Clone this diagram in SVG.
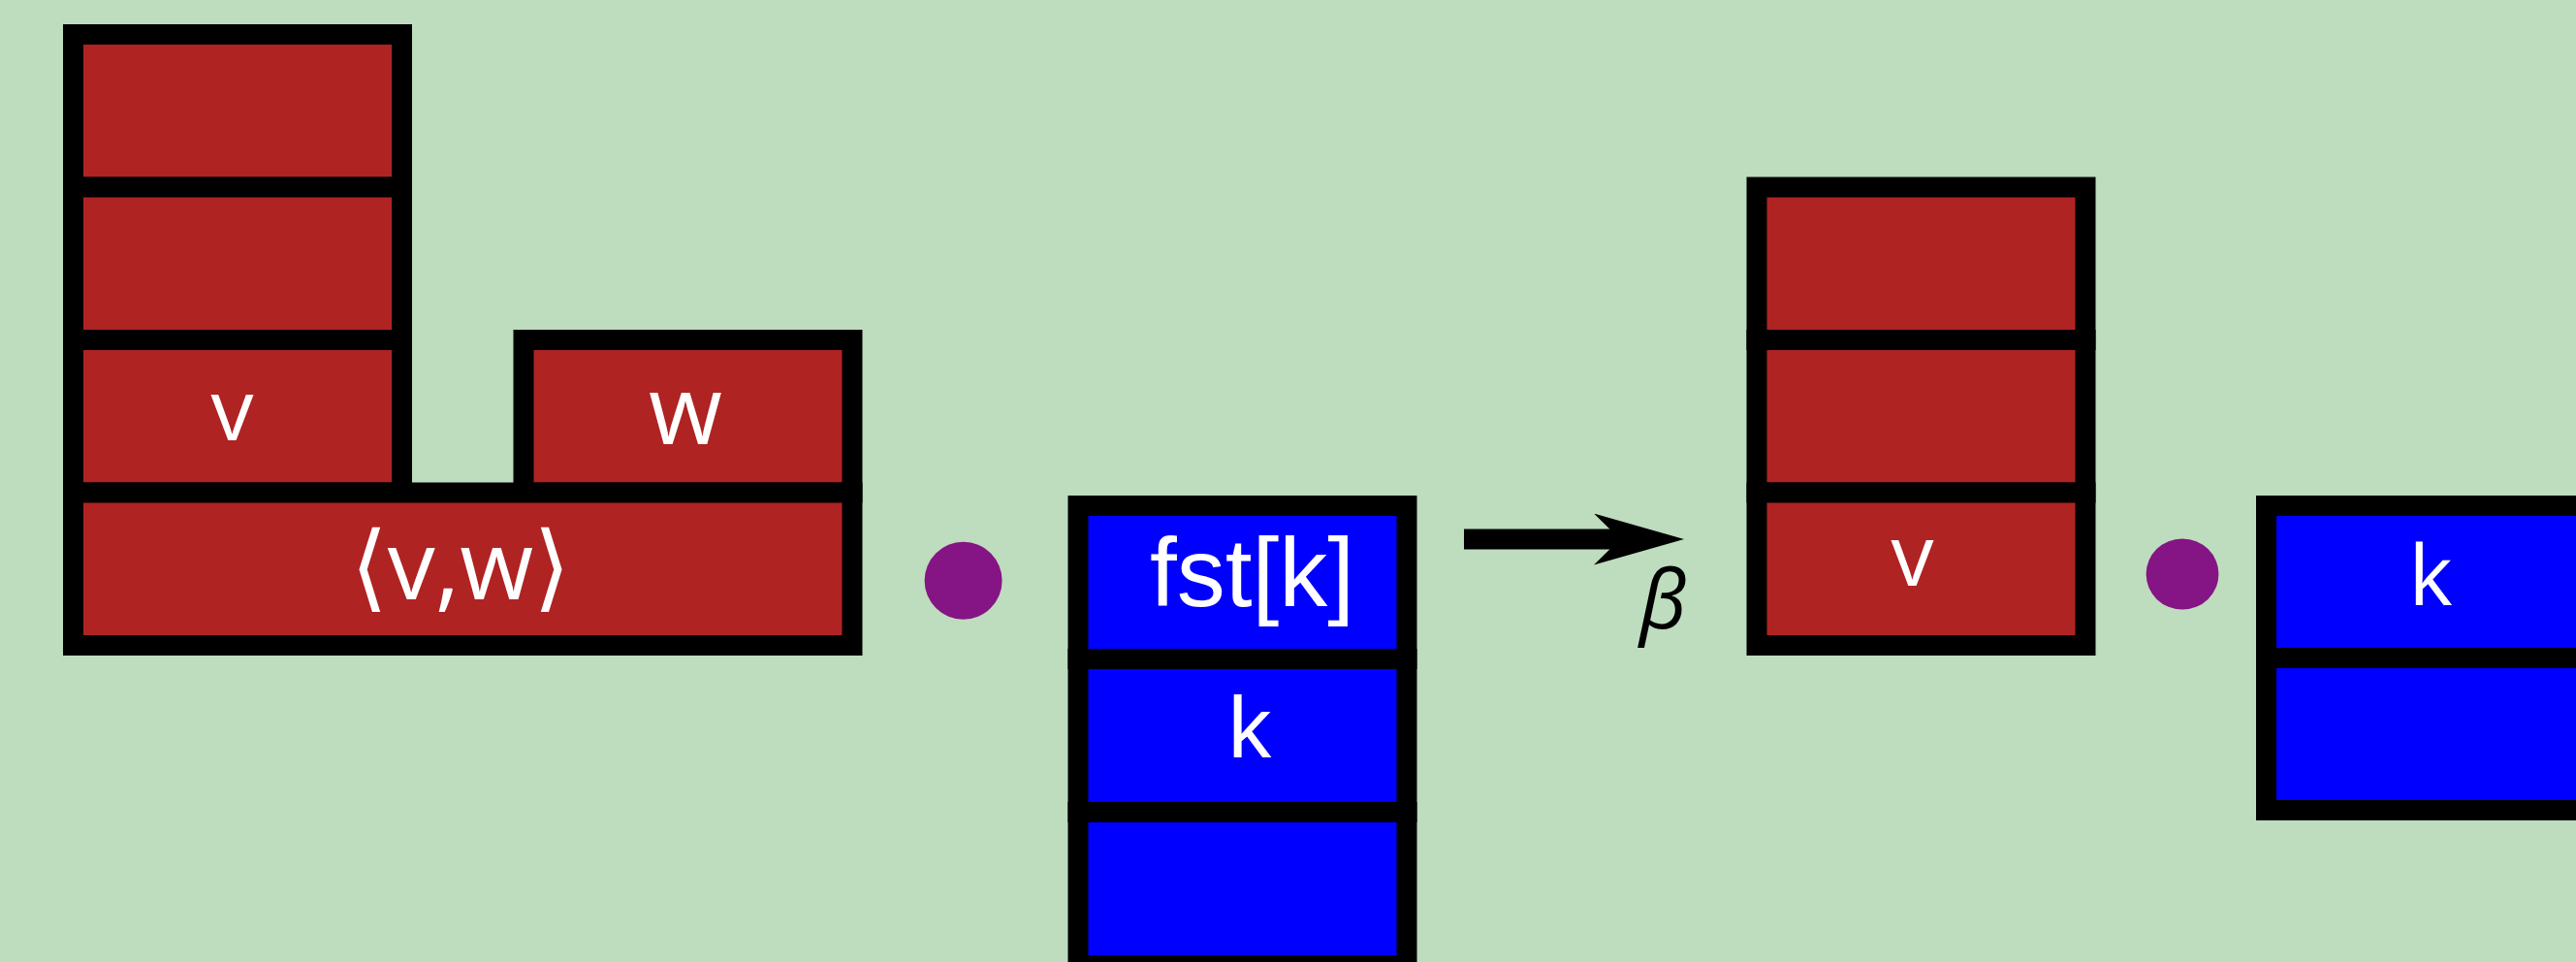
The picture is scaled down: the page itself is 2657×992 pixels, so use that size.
<svg xmlns="http://www.w3.org/2000/svg" width="2657" height="992" viewBox="0 0 2657 992">
  <style>
    .cell { stroke: #000; stroke-width: 21; }
    .red { fill: #b02323; }
    .blue { fill: #0000ff; }
    .dot { fill: #851484; }
    .lbl { fill: #fff; text-anchor: middle; font-family: "Open Sans", "DejaVu Sans", sans-serif; }
    .arial { font-family: "Liberation Sans", Arial, sans-serif; }
    .greek { fill: #000; text-anchor: middle; font-style: italic; font-family: "Open Sans", "DejaVu Sans", sans-serif; }
  </style>
  <defs>
    <marker id="head" markerUnits="userSpaceOnUse" viewBox="0 0 93 53" refX="27" refY="26.5" markerWidth="93" markerHeight="53" orient="auto">
      <path d="M0,0 L93,26.5 L0,53 L27,26.5 Z" fill="#000"/>
    </marker>
  </defs>

  <rect width="2657" height="992" fill="#bedcbe"/>

  <!-- left stack: three cells on the pair cell, with w beside -->
  <g id="left-top">
    <rect class="cell red" x="75.5" y="35.5" width="339" height="157.5"/>
  </g>
  <g id="left-mid">
    <rect class="cell red" x="75.5" y="193" width="339" height="157.5"/>
  </g>
  <g id="left-v">
    <rect class="cell red" x="75.5" y="350.5" width="339" height="157.5"/>
    <text class="lbl" x="239.5" y="454" font-size="88">v</text>
  </g>
  <g id="left-w">
    <rect class="cell red" x="540" y="350.5" width="339" height="157.5"/>
    <text class="lbl" x="707" y="457.5" font-size="98">w</text>
  </g>
  <g id="left-pair">
    <rect class="cell red" x="75.5" y="508" width="803.5" height="157.5"/>
    <text class="lbl" x="475" y="617.5" font-size="98">⟨v,w⟩</text>
  </g>

  <g id="dot-1">
    <circle class="dot" cx="993.6" cy="598.8" r="40"/>
  </g>

  <!-- blue stack in the middle -->
  <g id="mid-fst">
    <rect class="cell blue" x="1112" y="521.5" width="339" height="158"/>
    <text class="lbl arial" x="1291.5" y="624.6" font-size="100">fst[k]</text>
  </g>
  <g id="mid-k">
    <rect class="cell blue" x="1112" y="679.5" width="339" height="158"/>
    <text class="lbl arial" x="1289" y="780.8" font-size="89">k</text>
  </g>
  <g id="mid-bottom">
    <rect class="cell blue" x="1112" y="837.5" width="339" height="158"/>
  </g>

  <!-- reduction step -->
  <g id="connectors">
    <line x1="1510" y1="556" x2="1671" y2="556" stroke="#000" stroke-width="21" marker-end="url(#head)"/>
    <text class="greek" x="1715.5" y="647.5" font-size="84">β</text>
  </g>

  <!-- right red stack -->
  <g id="right-top">
    <rect class="cell red" x="1812" y="193" width="339" height="157.5"/>
  </g>
  <g id="right-mid">
    <rect class="cell red" x="1812" y="350.5" width="339" height="157.5"/>
  </g>
  <g id="right-v">
    <rect class="cell red" x="1812" y="508" width="339" height="157.5"/>
    <text class="lbl" x="1972.5" y="604.3" font-size="88">v</text>
  </g>

  <g id="dot-2">
    <ellipse class="dot" cx="2251" cy="592" rx="37.4" ry="36.6"/>
  </g>

  <!-- right blue stack, running past the edge -->
  <g id="right-k">
    <rect class="cell blue" x="2337.5" y="521.5" width="339" height="157"/>
    <text class="lbl" x="2507" y="623.5" font-size="86">k</text>
  </g>
  <g id="right-bottom">
    <rect class="cell blue" x="2337.5" y="678.5" width="339" height="157"/>
  </g>
</svg>
